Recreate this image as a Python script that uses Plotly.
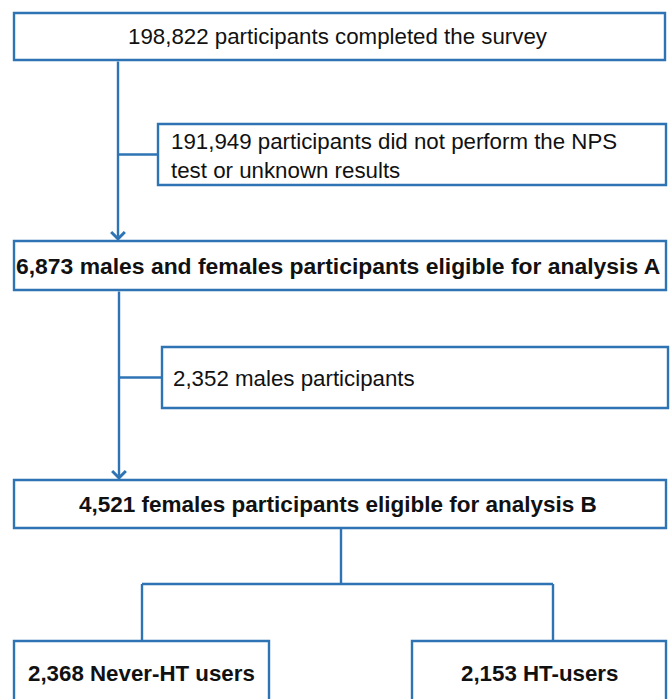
import plotly.graph_objects as go

# ---------------- data ----------------
stage_counts = [198822, 6873, 4521]
stage_texts = [
    "participants completed the survey",
    "males and females participants eligible for analysis A",
    "females participants eligible for analysis B",
]
excluded_counts = [191949, 2352]
excluded_texts = [
    "participants did not perform the NPS<br>test or unknown results",
    "males participants",
]
group_counts = [2368, 2153]
group_names = ["Never-HT users", "HT-users"]

# ---------------- layout geometry (pixels, y downwards) ----------------
W, H = 670, 699
BLUE = "#2E74B5"
LW = 2.4
FONT = "Arial, Liberation Sans, sans-serif"
stage_font_sizes = [22.3, 22.9, 22.5]

stage_boxes = [(14, 13, 665, 60), (14, 241, 666, 290), (14, 480, 666, 528)]
excl_boxes = [(158, 124, 666, 185), (162, 347, 668, 408)]
group_boxes = [(14, 641, 269, 712), (412, 641, 666, 712)]
spine_x = [118, 119]
excl_text_x = [169, 171]
group_text_y = 673
split_x, split_y = 341, 584
branch_x = [142, 553]

fig = go.Figure()
shapes, annos = [], []


def rect(b):
    shapes.append(dict(type="rect", xref="x", yref="y", x0=b[0], y0=b[1], x1=b[2], y1=b[3],
                       line=dict(color=BLUE, width=LW), fillcolor="white", layer="above"))


def seg(x0, y0, x1, y1):
    shapes.append(dict(type="line", xref="x", yref="y", x0=x0, y0=y0, x1=x1, y1=y1,
                       line=dict(color=BLUE, width=LW), layer="above"))


# stage boxes
for i, (b, n, t) in enumerate(zip(stage_boxes, stage_counts, stage_texts)):
    rect(b)
    txt = f"{n:,} {t}"
    if i > 0:
        txt = f"<b>{txt}</b>"
    annos.append(dict(x=(b[0] + b[2]) / 2 - 2, y=(b[1] + b[3]) / 2, xref="x", yref="y",
                      text=txt, showarrow=False, xanchor="center", yanchor="middle",
                      font=dict(family=FONT, size=stage_font_sizes[i], color="#111111")))

# exclusion boxes + arrows
for i, (b, n, t) in enumerate(zip(excl_boxes, excluded_counts, excluded_texts)):
    rect(b)
    annos.append(dict(x=excl_text_x[i], y=(b[1] + b[3]) / 2 + 1, xref="x", yref="y",
                      text=f"{n:,} {t}", showarrow=False, xanchor="left", yanchor="middle",
                      align="left", font=dict(family=FONT, size=22.3, color="#111111")))
    top = stage_boxes[i][3]
    bottom = stage_boxes[i + 1][1]
    sx = spine_x[i]
    seg(sx, (b[1] + b[3]) / 2, b[0], (b[1] + b[3]) / 2)
    annos.append(dict(x=sx, y=bottom, ax=sx, ay=top, xref="x", yref="y", axref="x", ayref="y",
                      text="", showarrow=True, arrowhead=4, arrowsize=1.1, arrowwidth=LW,
                      arrowcolor=BLUE, standoff=0, startstandoff=0))

# split to groups
last = stage_boxes[-1]
seg(split_x, last[3], split_x, split_y)
seg(branch_x[0], split_y, branch_x[1], split_y)
for bx, b, n, name in zip(branch_x, group_boxes, group_counts, group_names):
    seg(bx, split_y, bx, b[1])
    rect(b)
    annos.append(dict(x=(b[0] + b[2]) / 2, y=group_text_y, xref="x", yref="y",
                      text=f"<b>{n:,} {name}</b>", showarrow=False, xanchor="center",
                      yanchor="middle", font=dict(family=FONT, size=22.3, color="#111111")))

fig.update_layout(
    width=W, height=H, margin=dict(l=0, r=0, t=0, b=0),
    paper_bgcolor="white", plot_bgcolor="white",
    xaxis=dict(range=[0, W], visible=False, fixedrange=True),
    yaxis=dict(range=[H, 0], visible=False, fixedrange=True),
    shapes=shapes, annotations=annos, showlegend=False,
)
fig.write_html("out.html", config={"displayModeBar": False},
               post_script="document.body.style.margin='0';document.body.style.overflow='hidden';")
